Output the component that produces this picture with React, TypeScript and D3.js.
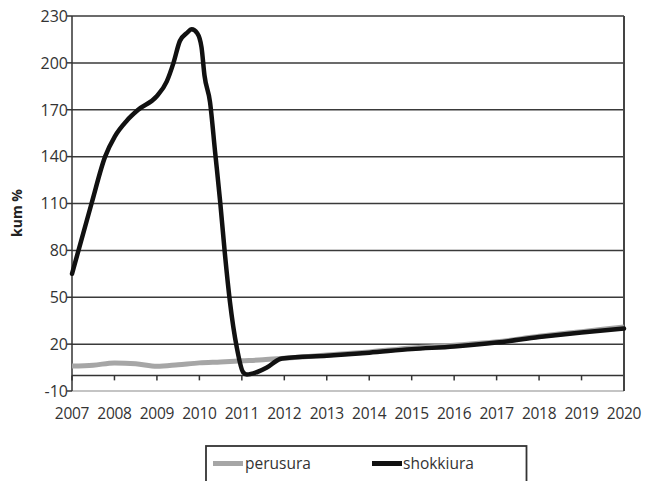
import React from "react";
import * as d3 from "d3";

const yearTicks = [2007, 2008, 2009, 2010, 2011, 2012, 2013, 2014, 2015, 2016, 2017, 2018, 2019, 2020];
const yTicks = [-10, 20, 50, 80, 110, 140, 170, 200, 230];

const shokkiuraX = [2007.0, 2007.46, 2007.78, 2008.01, 2008.29, 2008.56, 2008.99, 2009.23, 2009.39, 2009.54, 2009.7, 2009.82, 2009.95, 2010.05, 2010.12, 2010.25, 2010.37, 2010.49, 2010.6, 2010.72, 2010.88, 2011.03, 2011.12, 2011.35, 2011.59, 2011.9, 2012.0, 2013, 2014, 2015, 2016, 2017, 2018, 2019, 2020];
const shokkiuraY = [65, 110, 140, 153, 163, 170, 178.5, 188, 200, 214, 219, 221.5, 219, 210, 192, 175, 143, 111, 78, 47, 18, 2, 0.5, 2, 5, 10.5, 11, 12.5, 14.5, 16.8, 18.5, 21, 24.5, 27.5, 30];

const perusuraX = [2007.0, 2007.5, 2008.0, 2008.5, 2009.0, 2009.5, 2010.0, 2010.5, 2011.0, 2011.5, 2012.0, 2013, 2014, 2015, 2016, 2017, 2018, 2019, 2020];
const perusuraY = [6, 6.5, 8, 7.5, 5.8, 6.8, 8, 8.6, 9.3, 10, 11, 13, 15, 17.5, 19.3, 21.5, 25, 28, 31];

const W = 648;
const H = 481;
const left = 72;
const right = 624;
const top = 16;
const bottom = 391;
const font = "'Open Sans', 'DejaVu Sans', sans-serif";

export default function App() {
  const x = d3.scaleLinear().domain([2007, 2020]).range([left, right]);
  const y = d3.scaleLinear().domain([-10, 230]).range([bottom, top]);

  const line = d3
    .line<[number, number]>()
    .x((d) => x(d[0]))
    .y((d) => y(d[1]))
    .curve(d3.curveMonotoneX);

  const shokkiura = shokkiuraX.map((v, i) => [v, shokkiuraY[i]] as [number, number]);
  const perusura = perusuraX.map((v, i) => [v, perusuraY[i]] as [number, number]);

  return (
    <svg
      width={W}
      height={H}
      style={{ position: "absolute", left: 0, top: 0, background: "#fff" }}
      fontFamily={font}
    >
      <rect x={0} y={0} width={W} height={H} fill="#fff" />
      {/* bottom light line at -10 */}
      <line x1={left} x2={right} y1={y(-10)} y2={y(-10)} stroke="#b0b0b0" strokeWidth={1.5} />
      {/* gridlines */}
      {yTicks
        .filter((t) => t > 0)
        .map((t) => (
          <line key={t} x1={left} x2={right} y1={y(t)} y2={y(t)} stroke="#3a3a3a" strokeWidth={1.5} />
        ))}
      {/* y tick marks */}
      {yTicks.map((t) => (
        <line key={"yt" + t} x1={left - 5} x2={left} y1={y(t)} y2={y(t)} stroke="#333" strokeWidth={1.5} />
      ))}
      {/* zero axis */}
      <line x1={left} x2={right} y1={y(0)} y2={y(0)} stroke="#333" strokeWidth={1.5} />
      {yearTicks.map((t) => (
        <line key={"xt" + t} x1={x(t)} x2={x(t)} y1={y(0)} y2={y(0) + 5} stroke="#333" strokeWidth={1.5} />
      ))}
      {/* axes borders */}
      <line x1={left} x2={left} y1={top} y2={bottom} stroke="#333" strokeWidth={1.5} />
      <line x1={right} x2={right} y1={top} y2={bottom} stroke="#444" strokeWidth={2} />

      {/* series */}
      <path d={line(perusura) || ""} fill="none" stroke="#a6a6a6" strokeWidth={5} strokeLinejoin="round" />
      <path d={line(shokkiura) || ""} fill="none" stroke="#111" strokeWidth={4.5} strokeLinejoin="round" strokeLinecap="round" />

      {/* y labels */}
      {yTicks.map((t) => (
        <text key={"yl" + t} x={left - 4} y={y(t)} dy="0.36em" textAnchor="end" fontSize={16} fill="#333">
          {t}
        </text>
      ))}
      {/* x labels */}
      {yearTicks.map((t) => (
        <text key={"xl" + t} x={x(t)} y={419} textAnchor="middle" fontSize={15.5} fill="#333" letterSpacing={-0.3}>
          {t}
        </text>
      ))}
      {/* y axis title */}
      <text
        transform={`translate(22, 213) rotate(-90)`}
        textAnchor="middle"
        fontSize={14}
        fontWeight="bold"
        fill="#222"
      >
        kum %
      </text>

      {/* legend */}
      <rect x={206} y={446} width={320.5} height={50} fill="none" stroke="#333" strokeWidth={1.8} />
      <line x1={213} x2={243} y1={463.5} y2={463.5} stroke="#a6a6a6" strokeWidth={5} />
      <text x={245} y={469} fontSize={15.5} fill="#333">perusura</text>
      <line x1={372} x2={402} y1={463.5} y2={463.5} stroke="#111" strokeWidth={5} />
      <text x={403} y={469} fontSize={15.5} fill="#333">shokkiura</text>
    </svg>
  );
}
